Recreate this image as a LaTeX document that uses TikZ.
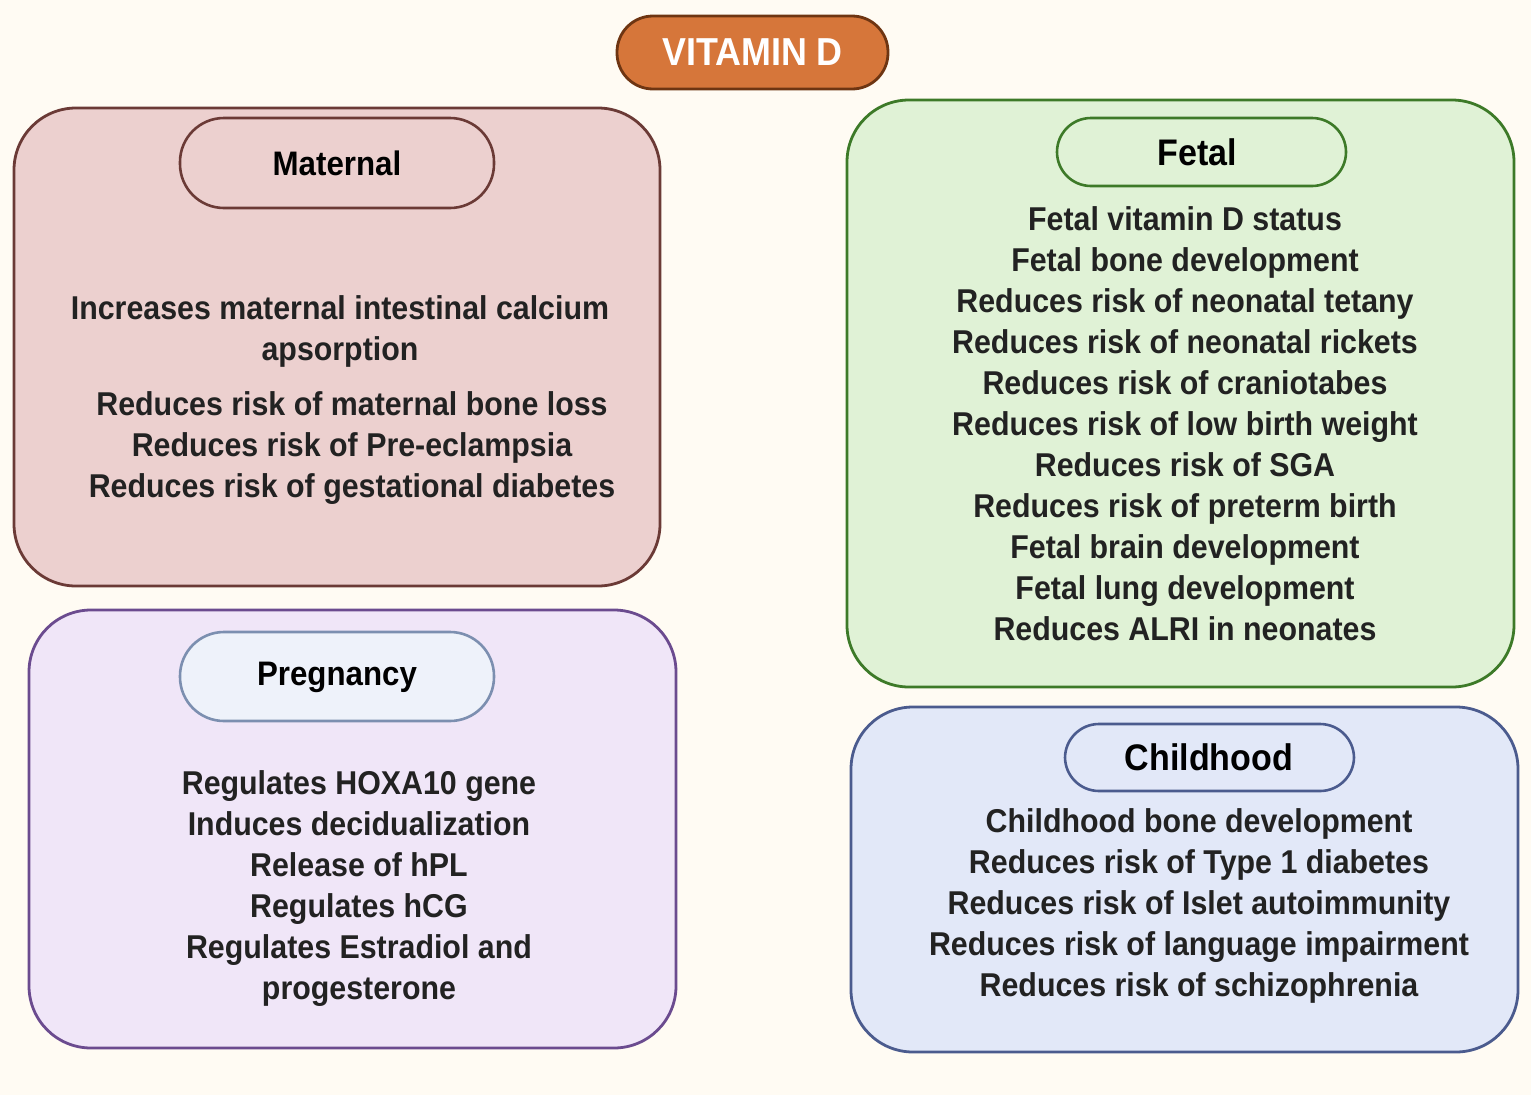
\documentclass[tikz,border=0pt]{standalone}
\usepackage{fontspec}
\setmainfont{Liberation Sans}[FakeStretch=0.92]
\definecolor{bgc}{HTML}{FFFBF3}
\definecolor{txt}{HTML}{222222}
\definecolor{vitfill}{HTML}{D6763A}
\definecolor{vitdraw}{HTML}{6E3512}
\definecolor{matfill}{HTML}{ECD0CF}
\definecolor{matdraw}{HTML}{6B3A36}
\definecolor{fetfill}{HTML}{E0F2D6}
\definecolor{fetdraw}{HTML}{3D7A28}
\definecolor{prefill}{HTML}{F0E6F8}
\definecolor{predraw}{HTML}{6B4B8F}
\definecolor{prepill}{HTML}{EEF2FA}
\definecolor{prepilldraw}{HTML}{7C8FB0}
\definecolor{chifill}{HTML}{E2E8F8}
\definecolor{chidraw}{HTML}{4B5B8E}
\tikzset{
  panel/.style={rounded corners=62pt, line width=2.8pt},
  pill/.style={rounded corners=34pt, line width=2.6pt},
  body/.style={text=txt, align=center, font=\bfseries\fontsize{33}{41}\selectfont, inner sep=0pt},
  headsmall/.style={text=black, font=\bfseries\fontsize{34}{38}\selectfont, inner sep=0pt},
  headbig/.style={text=black, font=\bfseries\fontsize{37}{42}\selectfont, inner sep=0pt},
}
\begin{document}
\begin{tikzpicture}[x=1pt,y=-1pt]
\fill[bgc] (0,0) rectangle (1531,1095);
\useasboundingbox (0,0) rectangle (1531,1095);

% VITAMIN D
\draw[fill=vitfill, draw=vitdraw, line width=2.8pt, rounded corners=36pt] (617,16) rectangle (888,89);
\node[text=white, font=\bfseries\fontsize{39}{42}\selectfont, inner sep=0pt] (vit) at (752.5,52) {VITAMIN D};

% Maternal
\draw[panel, fill=matfill, draw=matdraw] (14,108) rectangle (660,586);
\draw[pill, fill=matfill, draw=matdraw, rounded corners=44pt] (180,118) rectangle (494,208);
\node[headsmall] (mathead) at (337,163) {Maternal};
\node[body] (mat1) at (340,331.5) {Increases maternal intestinal calcium\\apsorption};
\node[body] (mat2) at (352,448) {Reduces risk of maternal bone loss\\Reduces risk of Pre-eclampsia\\Reduces risk of gestational diabetes};

% Fetal
\draw[panel, fill=fetfill, draw=fetdraw] (847,100) rectangle (1514,687);
\draw[pill, fill=fetfill, draw=fetdraw] (1057,118) rectangle (1346,186);
\node[headbig] (fethead) at (1197,152) {Fetal};
\node[body] (fet) at (1185,423.5) {Fetal vitamin D status\\Fetal bone development\\Reduces risk of neonatal tetany\\Reduces risk of neonatal rickets\\Reduces risk of craniotabes\\Reduces risk of low birth weight\\Reduces risk of SGA\\Reduces risk of preterm birth\\Fetal brain development\\Fetal lung development\\Reduces ALRI in neonates};

% Pregnancy
\draw[panel, fill=prefill, draw=predraw] (29,610) rectangle (676,1048);
\draw[pill, fill=prepill, draw=prepilldraw, rounded corners=44pt] (180,632) rectangle (494,721);
\node[headsmall] (prehead) at (337,677) {Pregnancy};
\node[body] (pre) at (359,889) {Regulates HOXA10 gene\\Induces decidualization\\Release of hPL\\Regulates hCG\\Regulates Estradiol and\\progesterone};

% Childhood
\draw[panel, fill=chifill, draw=chidraw] (851,707) rectangle (1518,1052);
\draw[pill, fill=chifill, draw=chidraw] (1065,724) rectangle (1354,791);
\node[headbig] (chihead) at (1209,757) {Childhood};
\node[body] (chi) at (1199,906) {Childhood bone development\\Reduces risk of Type 1 diabetes\\Reduces risk of Islet autoimmunity\\Reduces risk of language impairment\\Reduces risk of schizophrenia};
\end{tikzpicture}
\end{document}
